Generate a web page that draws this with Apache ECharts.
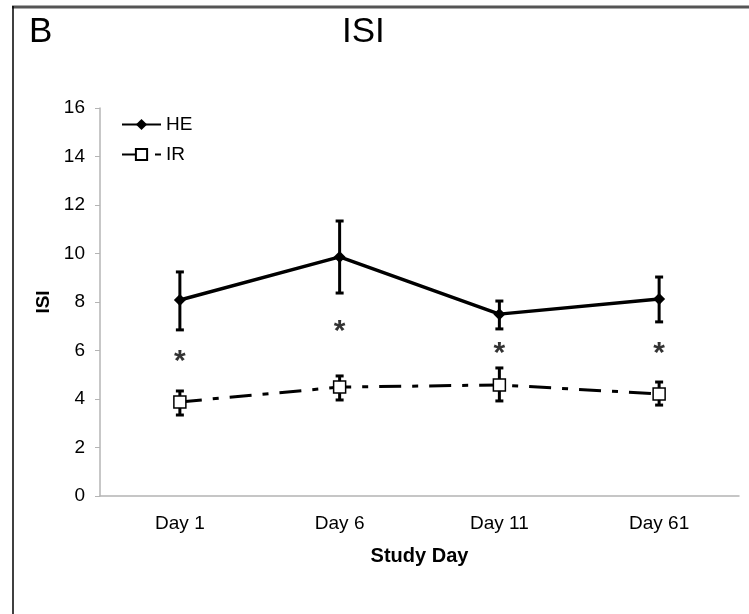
<!DOCTYPE html>
<html>
<head>
<meta charset="utf-8">
<script src="https://cdn.jsdelivr.net/npm/echarts@6/dist/echarts.min.js"></script>
<style>
  html, body { margin: 0; padding: 0; background: #fff; }
  #main { width: 749px; height: 614px; }
</style>
</head>
<body>
<div id="main"></div>
<script>
// categories and values
var days = ['Day 1', 'Day 6', 'Day 11', 'Day 61']
var heMean = [8.08, 9.86, 7.5, 8.12]
var heLow = [6.85, 8.37, 6.89, 7.18]
var heHigh = [9.24, 11.34, 8.04, 9.03]
var irMean = [3.88, 4.49, 4.58, 4.21]
var irLow = [3.34, 3.96, 3.92, 3.75]
var irHigh = [4.33, 4.95, 5.28, 4.70]
// significance markers (y position of the asterisk)
var starY = [5.81, 7.05, 6.14, 6.14]

var font = 'Liberation Sans, Arial, sans-serif'

function errData (low, high) {
  var out = []
  for (var i = 0; i < low.length; i++) {
    out.push([i, low[i], high[i]])
  }
  return out
}

function errorBars (params, api) {
  var lo = api.coord([api.value(0), api.value(1)])
  var hi = api.coord([api.value(0), api.value(2)])
  var cap = 4
  var style = { stroke: '#000', lineWidth: 3 }
  return {
    type: 'group',
    children: [
      { type: 'line', shape: { x1: lo[0], y1: lo[1], x2: hi[0], y2: hi[1] }, style: style },
      { type: 'line', shape: { x1: lo[0] - cap, y1: lo[1], x2: lo[0] + cap, y2: lo[1] }, style: style },
      { type: 'line', shape: { x1: hi[0] - cap, y1: hi[1], x2: hi[0] + cap, y2: hi[1] }, style: style }
    ]
  }
}

var chart = echarts.init(document.getElementById('main'))
var options = {
  backgroundColor: '#fff',
  animation: false,
  title: [
    { text: 'B', left: 24, top: 10, textStyle: { fontFamily: font, fontSize: 35, fontWeight: 'normal', color: '#000' } },
    { text: 'ISI', left: 337, top: 10, textStyle: { fontFamily: font, fontSize: 35, fontWeight: 'normal', color: '#000' } }
  ],
  graphic: [
    { type: 'line', shape: { x1: 12, y1: 7, x2: 749, y2: 7 }, style: { stroke: '#555', lineWidth: 3 } },
    { type: 'line', shape: { x1: 13, y1: 6, x2: 13, y2: 614 }, style: { stroke: '#000', lineWidth: 1.5 } }
  ],
  legend: {
    data: ['HE', 'IR'],
    orient: 'vertical',
    left: 116,
    top: 110,
    itemWidth: 39,
    itemHeight: 14,
    itemGap: 11,
    textStyle: { fontFamily: font, fontSize: 19, color: '#000' }
  },
  grid: {
    top: 108,
    left: 100,
    right: 10,
    bottom: 118
  },
  xAxis: {
    type: 'category',
    data: days,
    name: 'Study Day',
    nameLocation: 'middle',
    nameGap: 50,
    nameTextStyle: { fontFamily: font, fontSize: 20, fontWeight: 'bold', color: '#000' },
    axisLine: { lineStyle: { color: '#b4b4b4', width: 1.5 } },
    axisTick: { length: 6, lineStyle: { color: '#b4b4b4' } },
    axisLabel: { margin: 18, fontFamily: font, fontSize: 19, color: '#000' },
    splitLine: { show: false }
  },
  yAxis: {
    type: 'value',
    min: 0,
    max: 16,
    interval: 2,
    name: 'ISI',
    nameLocation: 'middle',
    nameGap: 33,
    nameTextStyle: { fontFamily: font, fontSize: 19, fontWeight: 'bold', color: '#000' },
    axisLine: { show: true, lineStyle: { color: '#b4b4b4', width: 1.5 } },
    axisTick: { show: true, length: 5, lineStyle: { color: '#b4b4b4' } },
    axisLabel: { margin: 15, fontFamily: font, fontSize: 19, color: '#000' },
    splitLine: { show: false }
  },
  series: [
    {
      name: 'HE err',
      type: 'custom',
      renderItem: errorBars,
      data: errData(heLow, heHigh),
      z: 1
    },
    {
      name: 'IR err',
      type: 'custom',
      renderItem: errorBars,
      data: errData(irLow, irHigh),
      z: 1
    },
    {
      name: 'HE',
      type: 'line',
      data: heMean,
      symbol: 'diamond',
      symbolSize: 12,
      itemStyle: { color: '#000' },
      lineStyle: { color: '#000', width: 3.5 },
      z: 3
    },
    {
      name: 'IR',
      type: 'line',
      data: irMean,
      symbol: 'rect',
      symbolSize: 12,
      itemStyle: { color: '#fff', borderColor: '#000', borderWidth: 1.5 },
      lineStyle: { color: '#000', width: 3, type: [22, 11, 6, 11] },
      z: 3
    },
    {
      name: 'sig',
      type: 'scatter',
      data: starY,
      symbolSize: 1,
      itemStyle: { color: 'rgba(0,0,0,0)' },
      label: {
        show: true,
        position: 'inside',
        formatter: '*',
        fontFamily: font,
        fontSize: 30,
        fontWeight: 'bold',
        color: '#000',
        offset: [0, 7]
      },
      z: 4
    }
  ]
}
chart.setOption(options)
</script>
</body>
</html>
